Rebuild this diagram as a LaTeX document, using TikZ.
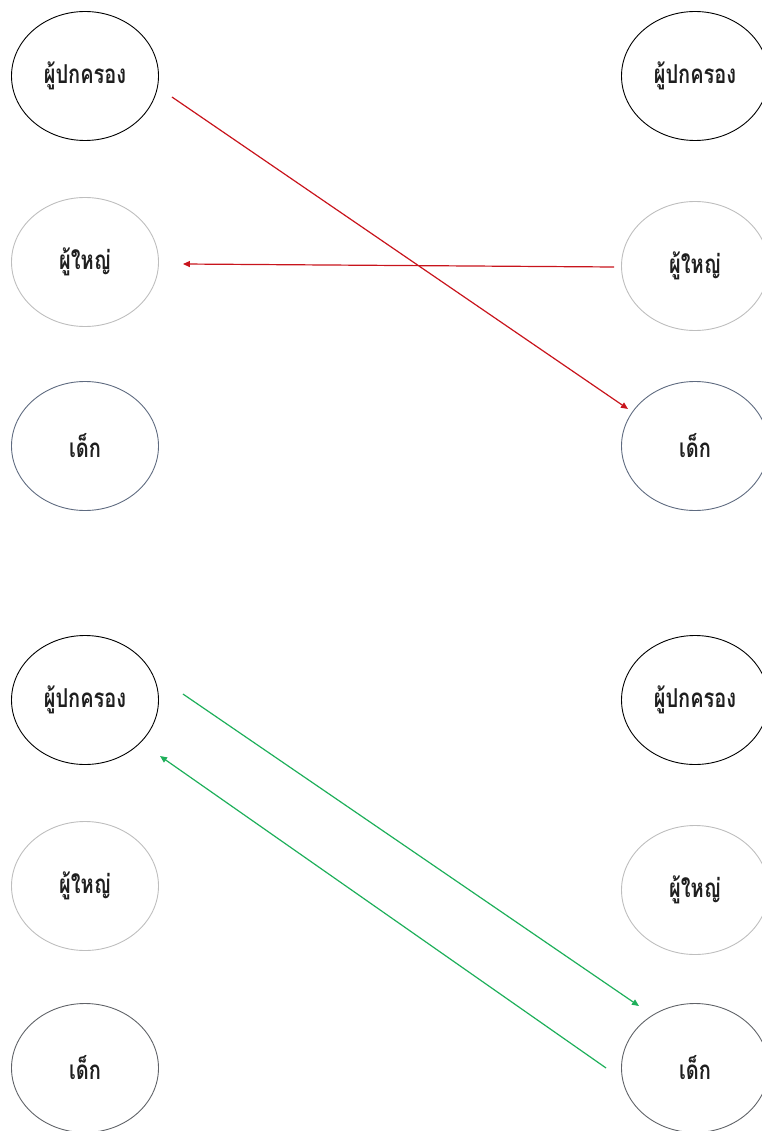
\documentclass[tikz,border=0pt]{standalone}
\usepackage{fontspec}
\usepackage{graphicx}
\newfontfamily\thaifont[Script=Thai]{Loma}
\usetikzlibrary{arrows.meta,shapes.geometric}
\definecolor{kidblue}{HTML}{5F6B80}
\definecolor{kidgray}{HTML}{606368}
\definecolor{adultgray}{HTML}{BEBEBE}
\definecolor{linkred}{HTML}{C8141C}
\definecolor{linkgreen}{HTML}{1EAF5A}
\newcommand{\tall}[1]{\scalebox{1}[1.3]{#1}}
\tikzset{
  person/.style={ellipse, draw, line width=0.9pt, minimum width=147pt, minimum height=129pt,
    inner sep=0pt, font=\thaifont\bfseries\fontsize{20}{22}\selectfont, text=black!88},
  parent/.style={person, draw=black},
  adult/.style={person, draw=adultgray},
  kidtop/.style={person, draw=kidblue},
  kidbot/.style={person, draw=kidgray},
  redlink/.style={draw=linkred, line width=1.2pt, -{Triangle[length=7pt,width=6pt]}},
  greenlink/.style={draw=linkgreen, line width=1.2pt, -{Triangle[length=7pt,width=6pt]}}
}
\begin{document}
\begin{tikzpicture}[x=1pt,y=-1pt]
\useasboundingbox (0,0) rectangle (762,1131);
\clip (0,0) rectangle (762,1131);
% upper group
\node[parent] (pL1) at (85,76)  {\tall{ผู้ปกครอง}};
\node[adult]  (aL1) at (85,262) {\tall{ผู้ใหญ่}};
\node[kidtop] (kL1) at (85,446) {\tall{เด็ก}};
\node[parent] (pR1) at (695,76)  {\tall{ผู้ปกครอง}};
\node[adult]  (aR1) at (695,266) {\tall{ผู้ใหญ่}};
\node[kidtop] (kR1) at (695,446) {\tall{เด็ก}};
% lower group
\node[parent] (pL2) at (85,700)  {\tall{ผู้ปกครอง}};
\node[adult]  (aL2) at (85,886)  {\tall{ผู้ใหญ่}};
\node[kidbot] (kL2) at (85,1068) {\tall{เด็ก}};
\node[parent] (pR2) at (695,700)  {\tall{ผู้ปกครอง}};
\node[adult]  (aR2) at (695,890)  {\tall{ผู้ใหญ่}};
\node[kidbot] (kR2) at (695,1068) {\tall{เด็ก}};
% red links
\draw[redlink] ([shift={(13,21)}]pL1.east) -- ([shift={(-67,-37)}]kR1.center);
\draw[redlink] ([shift={(-7,1)}]aR1.west) -- ([shift={(24,2)}]aL1.east);
% green links
\draw[greenlink] ([shift={(24,-6)}]pL2.east) -- ([shift={(-56,-62)}]kR2.center);
\draw[greenlink] ([shift={(-15,0)}]kR2.west) -- ([shift={(75,56)}]pL2.center);
\end{tikzpicture}
\end{document}
